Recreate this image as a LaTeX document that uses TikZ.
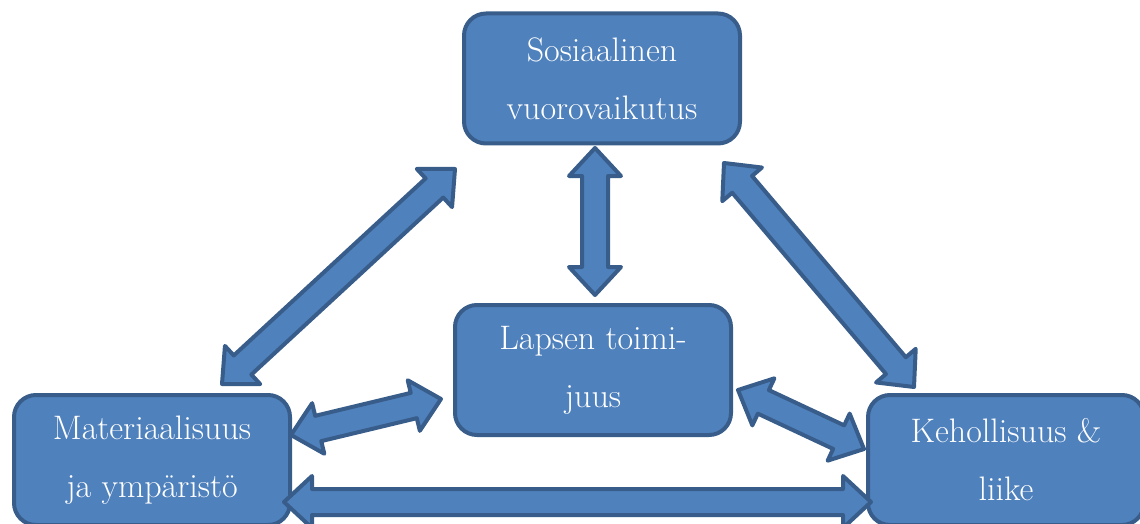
\documentclass[tikz,border=0pt]{standalone}
\usepackage{fontspec}
\usetikzlibrary{calc}
\definecolor{boxblue}{HTML}{4F81BD}
\definecolor{boxedge}{HTML}{385D8A}
\tikzset{
  box/.style={draw=boxedge, fill=boxblue, line width=2pt, rounded corners=11pt,
    minimum width=138pt, minimum height=65pt, inner sep=0pt, text=white,
    align=center, font=\fontsize{17}{29}\selectfont},
  blockarrow/.style={draw=boxedge, fill=boxblue, line width=2pt, line join=round}
}
\newcommand{\dblarrow}[2]{%
  \draw[blockarrow] (#1)
    -- ($(#1)!14pt!(#2)!13pt!90:(#2)$) -- ($(#1)!14pt!(#2)!6.5pt!90:(#2)$)
    -- ($(#2)!14pt!(#1)!6.5pt!-90:(#1)$) -- ($(#2)!14pt!(#1)!13pt!-90:(#1)$)
    -- (#2)
    -- ($(#2)!14pt!(#1)!13pt!90:(#1)$) -- ($(#2)!14pt!(#1)!6.5pt!90:(#1)$)
    -- ($(#1)!14pt!(#2)!6.5pt!-90:(#2)$) -- ($(#1)!14pt!(#2)!13pt!-90:(#2)$)
    -- cycle;}
\begin{document}
\begin{tikzpicture}[x=0.5pt,y=-0.5pt]
\useasboundingbox (0,0) rectangle (1140,524);
\node[box] (sos) at (602,78.5) {Sosiaalinen\\vuorovaikutus};
\node[box] (lapsen) at (593,370) {Lapsen toimi-\\juus};
\node[box] (mat) at (152,460) {Materiaalisuus\\ja ympäristö};
\node[box] (keho) at (1006,460) {Kehollisuus \&\\liike};
\coordinate (v1) at (595,148);
\coordinate (v2) at (595,295);
\coordinate (l1) at (455,169);
\coordinate (l2) at (222,384);
\coordinate (r1) at (724,163);
\coordinate (r2) at (914,387);
\coordinate (ml1) at (291,435);
\coordinate (ml2) at (441,399);
\coordinate (lk1) at (738,390);
\coordinate (lk2) at (864,449);
\coordinate (b1) at (284,502);
\coordinate (b2) at (871,502);
\dblarrow{v1}{v2}
\dblarrow{l1}{l2}
\dblarrow{r1}{r2}
\dblarrow{ml1}{ml2}
\dblarrow{lk1}{lk2}
\dblarrow{b1}{b2}
\end{tikzpicture}
\end{document}
